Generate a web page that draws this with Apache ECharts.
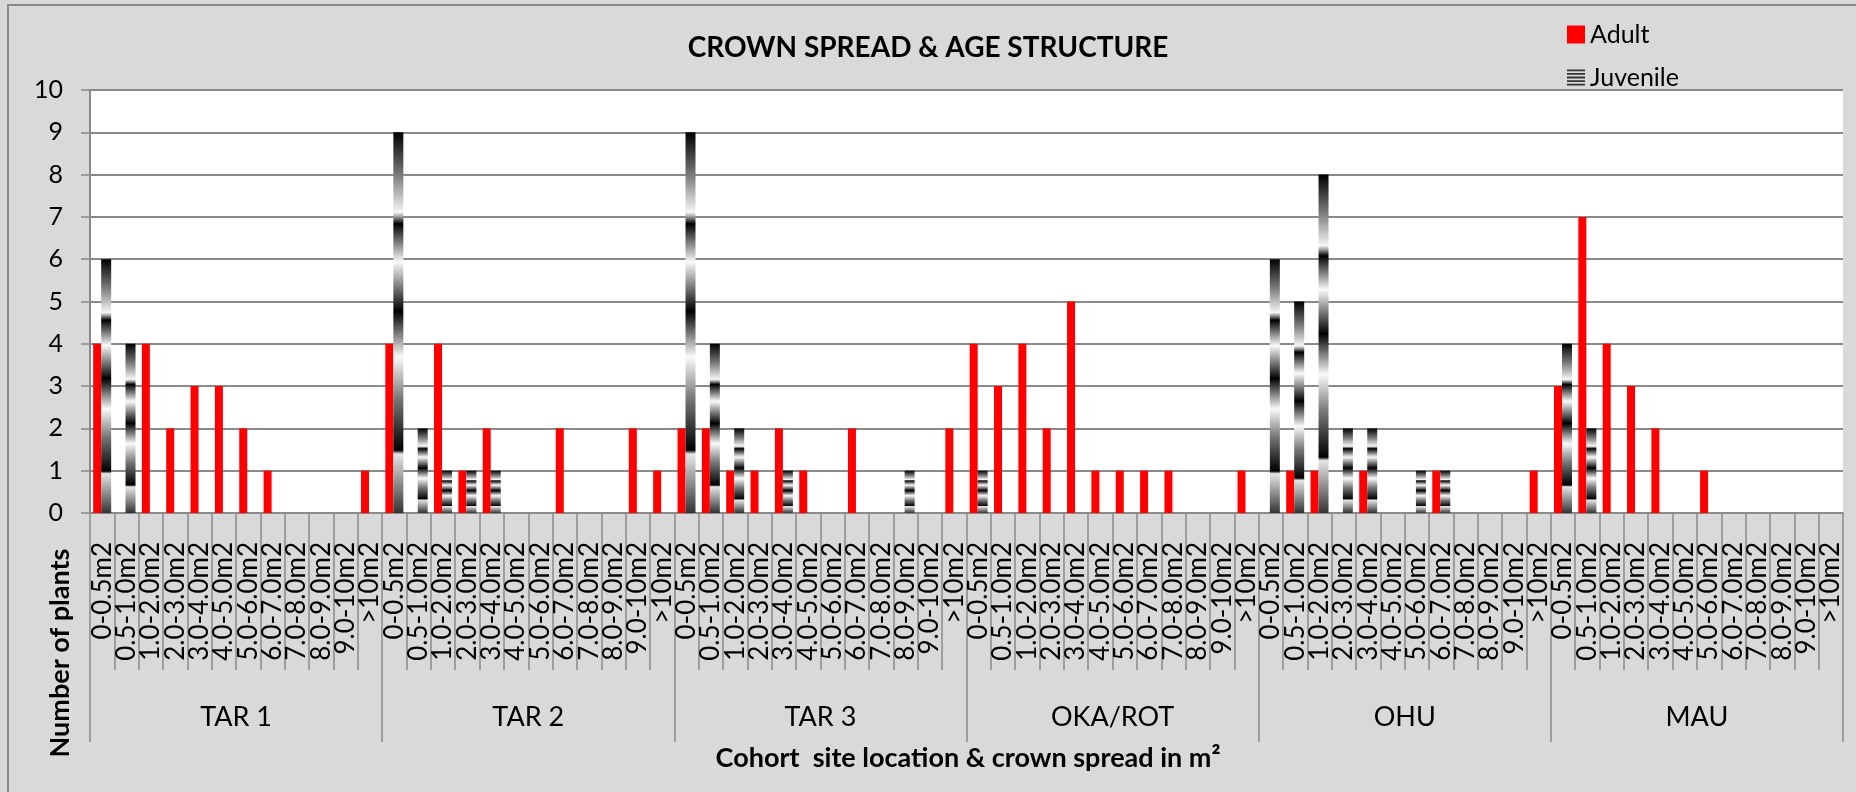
<!DOCTYPE html>
<html>
<head>
<meta charset="utf-8">
<script src="https://cdn.jsdelivr.net/npm/echarts@6/dist/echarts.min.js"></script>
<style>
  html, body { margin: 0; padding: 0; background: #d9d9d9; }
  #main { width: 1856px; height: 792px; }
</style>
</head>
<body>
<div id="main"></div>
<script>
const sites = ['TAR 1', 'TAR 2', 'TAR 3', 'OKA/ROT', 'OHU', 'MAU'];
const spreads = ['0-0.5m2', '0.5-1.0m2', '1.0-2.0m2', '2.0-3.0m2', '3.0-4.0m2', '4.0-5.0m2',
  '5.0-6.0m2', '6.0-7.0m2', '7.0-8.0m2', '8.0-9.0m2', '9.0-10m2', '>10m2'];

// number of plants per crown spread class, one list per site
const adultTar1 = [4, 0, 4, 2, 3, 3, 2, 1, 0, 0, 0, 1];
const adultTar2 = [4, 0, 4, 1, 2, 0, 0, 2, 0, 0, 2, 1];
const adultTar3 = [2, 2, 1, 1, 2, 1, 0, 2, 0, 0, 0, 2];
const adultOka = [4, 3, 4, 2, 5, 1, 1, 1, 1, 0, 0, 1];
const adultOhu = [0, 1, 1, 0, 1, 0, 0, 1, 0, 0, 0, 1];
const adultMau = [3, 7, 4, 3, 2, 0, 1, 0, 0, 0, 0, 0];

const juvTar1 = [6, 4, 0, 0, 0, 0, 0, 0, 0, 0, 0, 0];
const juvTar2 = [9, 2, 1, 1, 1, 0, 0, 0, 0, 0, 0, 0];
const juvTar3 = [9, 4, 2, 0, 1, 0, 0, 0, 0, 1, 0, 0];
const juvOka = [1, 0, 0, 0, 0, 0, 0, 0, 0, 0, 0, 0];
const juvOhu = [6, 5, 8, 2, 2, 0, 1, 1, 0, 0, 0, 0];
const juvMau = [4, 2, 0, 0, 0, 0, 0, 0, 0, 0, 0, 0];

const yTicks = [0, 1, 2, 3, 4, 5, 6, 7, 8, 9, 10];

const FONT = 'Lato';
const GREY = '#8a8a8a';

function createChart(chart) {
  let categories = [];
  sites.forEach(() => spreads.forEach(s => categories.push(s)));
  let adult = [].concat(adultTar1, adultTar2, adultTar3, adultOka, adultOhu, adultMau);
  let juvenile = [].concat(juvTar1, juvTar2, juvTar3, juvOka, juvOhu, juvMau);

  // banded grey gradient, stands in for the picture fill of the juvenile bars
  let juvFill = new echarts.graphic.LinearGradient(0, 0, 0, 1, [
    { offset: 0, color: '#000' },
    { offset: 0.11, color: '#777' },
    { offset: 0.21, color: '#f6f6f6' },
    { offset: 0.222, color: '#9a9a9a' },
    { offset: 0.24, color: '#000' },
    { offset: 0.34, color: '#fafafa' },
    { offset: 0.47, color: '#000' },
    { offset: 0.59, color: '#fafafa' },
    { offset: 0.7, color: '#777' },
    { offset: 0.835, color: '#000' },
    { offset: 0.845, color: '#e6e6e6' },
    { offset: 1, color: '#333' },
  ]);

  let option = {
    backgroundColor: '#d9d9d9',
    animation: false,
    textStyle: { fontFamily: FONT },
    title: {
      text: 'CROWN SPREAD & AGE STRUCTURE',
      left: 'center',
      top: 29,
      textStyle: { fontFamily: FONT, fontSize: 28, fontWeight: 'bold', color: '#000' },
    },
    legend: {
      orient: 'vertical',
      left: 1562,
      top: 17,
      itemWidth: 18,
      itemHeight: 18,
      itemGap: 18,
      textStyle: { fontFamily: FONT, fontSize: 25, color: '#000' },
      data: [
        { name: 'Adult', icon: 'rect' },
        {
          name: 'Juvenile',
          icon: 'path://M0,0H20V2H0Z M0,4H20V6H0Z M0,8H20V10H0Z M0,12H20V14H0Z M0,16H20V18H0Z',
          itemStyle: { color: '#333' },
        },
      ],
    },
    grid: { left: 90, right: 13, top: 90, bottom: 279, containLabel: false,
      show: true, backgroundColor: '#fff', borderWidth: 0 },
    xAxis: [
      {
        type: 'category',
        data: categories,
        position: 'bottom',
        axisLine: { show: true, lineStyle: { color: GREY, width: 2 } },
        axisTick: { show: true, interval: 0, length: 157, lineStyle: { color: GREY, width: 1.5 } },
        axisLabel: { interval: 0, rotate: 90, margin: 29, fontFamily: FONT, fontSize: 26, color: '#000' },
      },
      {
        type: 'category',
        data: sites,
        position: 'bottom',
        axisLine: { show: false },
        axisTick: { show: true, interval: 0, length: 229, lineStyle: { color: GREY, width: 1.5 } },
        axisLabel: { interval: 0, margin: 191, fontFamily: FONT, fontSize: 27, color: '#000' },
      },
    ],
    yAxis: {
      type: 'value',
      min: yTicks[0],
      max: yTicks[yTicks.length - 1],
      interval: 1,
      axisLine: { show: true, lineStyle: { color: GREY, width: 2 } },
      axisTick: { show: true, length: 9, lineStyle: { color: GREY, width: 1.5 } },
      axisLabel: { margin: 27, fontFamily: FONT, fontSize: 25, color: '#000' },
      splitLine: { show: true, lineStyle: { color: GREY, width: 2 } },
    },
    graphic: [
      {
        type: 'rect',
        shape: { x: 8, y: 5, width: 1900, height: 850 },
        style: { fill: 'none', stroke: '#8a8a8a', lineWidth: 2 },
        silent: true,
        z: -1,
      },
      {
        type: 'text',
        x: 60,
        y: 653,
        rotation: Math.PI / 2,
        style: {
          text: 'Number of plants',
          fontFamily: FONT, fontSize: 27, fontWeight: 'bold', fill: '#000',
          textAlign: 'center', textVerticalAlign: 'middle',
        },
      },
      {
        type: 'text',
        x: 968,
        y: 758,
        style: {
          text: 'Cohort  site location & crown spread in m²',
          fontFamily: FONT, fontSize: 27, fontWeight: 'bold', fill: '#000',
          textAlign: 'center', textVerticalAlign: 'middle',
        },
      },
    ],
    series: [
      {
        name: 'Adult',
        type: 'bar',
        xAxisIndex: 0,
        barWidth: 8,
        barGap: '0%',
        itemStyle: { color: '#ff0000' },
        data: adult,
      },
      {
        name: 'Juvenile',
        type: 'bar',
        xAxisIndex: 0,
        barWidth: 10,
        barGap: '0%',
        itemStyle: { color: juvFill },
        data: juvenile,
      },
    ],
  };

  chart.setOption(option);
}

let chart = echarts.init(document.getElementById('main'));
createChart(chart);
</script>
</body>
</html>
